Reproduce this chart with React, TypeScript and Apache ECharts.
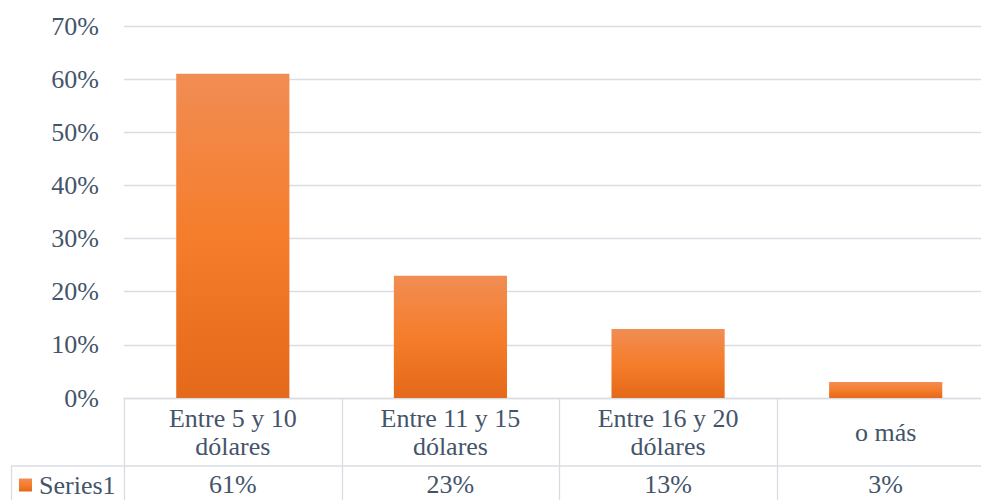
import React, { useEffect, useRef } from "react";
import * as echarts from "echarts";

const categories = ["Entre 5 y 10\ndólares", "Entre 11 y 15\ndólares", "Entre 16 y 20\ndólares", "o más"];
const values = [61, 23, 13, 3];
const seriesName = "Series1";
const yTicks = { min: 0, max: 70, interval: 10 };

const FONT = "Liberation Serif";
const FS = 26;
const TEXT = "#44546a";
const LINE = "#d9dde3";
const W = 995;

export default function App() {
  const ref = useRef<HTMLDivElement>(null);
  useEffect(() => {
    document.body.style.margin = "0";
    document.body.style.overflow = "hidden";
    const chart = echarts.init(ref.current!, null, { renderer: "svg" });
    const left = 124, right = 994.5, top = 26, bottom = 398;
    const cw = (right - left) / categories.length;
    const lineStyle = { stroke: LINE, lineWidth: 1.3 };
    const graphics: any[] = [
      { type: "line", shape: { x1: 11, y1: 466, x2: W, y2: 466 }, style: lineStyle, silent: true },
      { type: "line", shape: { x1: 11.5, y1: 466, x2: 11.5, y2: 500 }, style: lineStyle, silent: true },
    ];
    for (let i = 0; i < categories.length; i++) {
      const x = Math.round(left + i * cw) + 0.5;
      graphics.push({ type: "line", shape: { x1: x, y1: bottom, x2: x, y2: 500 }, style: lineStyle, silent: true });
    }
    chart.setOption({
      animation: false,
      textStyle: { fontFamily: FONT },
      grid: { left, right: W - right, top, bottom: 500 - bottom, containLabel: false },
      legend: {
        show: true,
        left: 19,
        top: 472,
        padding: 0,
        icon: "rect",
        itemWidth: 13,
        itemHeight: 13,
        textStyle: { fontFamily: FONT, fontSize: FS, lineHeight: 26, color: TEXT, padding: [0, 0, 0, 2] },
        data: [seriesName],
      },
      xAxis: [
        {
          type: "category",
          data: categories,
          axisLine: { show: true, lineStyle: { color: LINE, width: 1.3 } },
          axisTick: { show: false },
          axisLabel: {
            fontFamily: FONT,
            fontSize: FS,
            color: TEXT,
            lineHeight: 28,
            verticalAlign: "middle",
            margin: 34,
            interval: 0,
          },
        },
        {
          type: "category",
          data: categories,
          position: "bottom",
          axisLine: { show: false },
          axisTick: { show: false },
          axisLabel: {
            fontFamily: FONT,
            fontSize: FS,
            color: TEXT,
            verticalAlign: "middle",
            margin: 86,
            interval: 0,
            formatter: (_v: string, i: number) => values[i] + "%",
          },
        },
      ],
      yAxis: {
        type: "value",
        min: yTicks.min,
        max: yTicks.max,
        interval: yTicks.interval,
        axisLine: { show: false },
        axisTick: { show: false },
        splitLine: { lineStyle: { color: LINE, width: 1.3 } },
        axisLabel: {
          fontFamily: FONT,
          fontSize: FS,
          color: TEXT,
          margin: 25,
          formatter: "{value}%",
        },
      },
      series: [
        {
          name: seriesName,
          type: "bar",
          data: values,
          barWidth: "52%",
          itemStyle: {
            color: new echarts.graphic.LinearGradient(0, 0, 0, 1, [
              { offset: 0, color: "#f18d54" },
              { offset: 0.5, color: "#f57d2b" },
              { offset: 1, color: "#e4691a" },
            ]),
          },
        },
      ],
      graphic: graphics,
    });
    return () => chart.dispose();
  }, []);
  return (
    <div style={{ width: 981, height: 500, overflow: "hidden" }}>
      <div ref={ref} style={{ width: W, height: 500 }} />
    </div>
  );
}
